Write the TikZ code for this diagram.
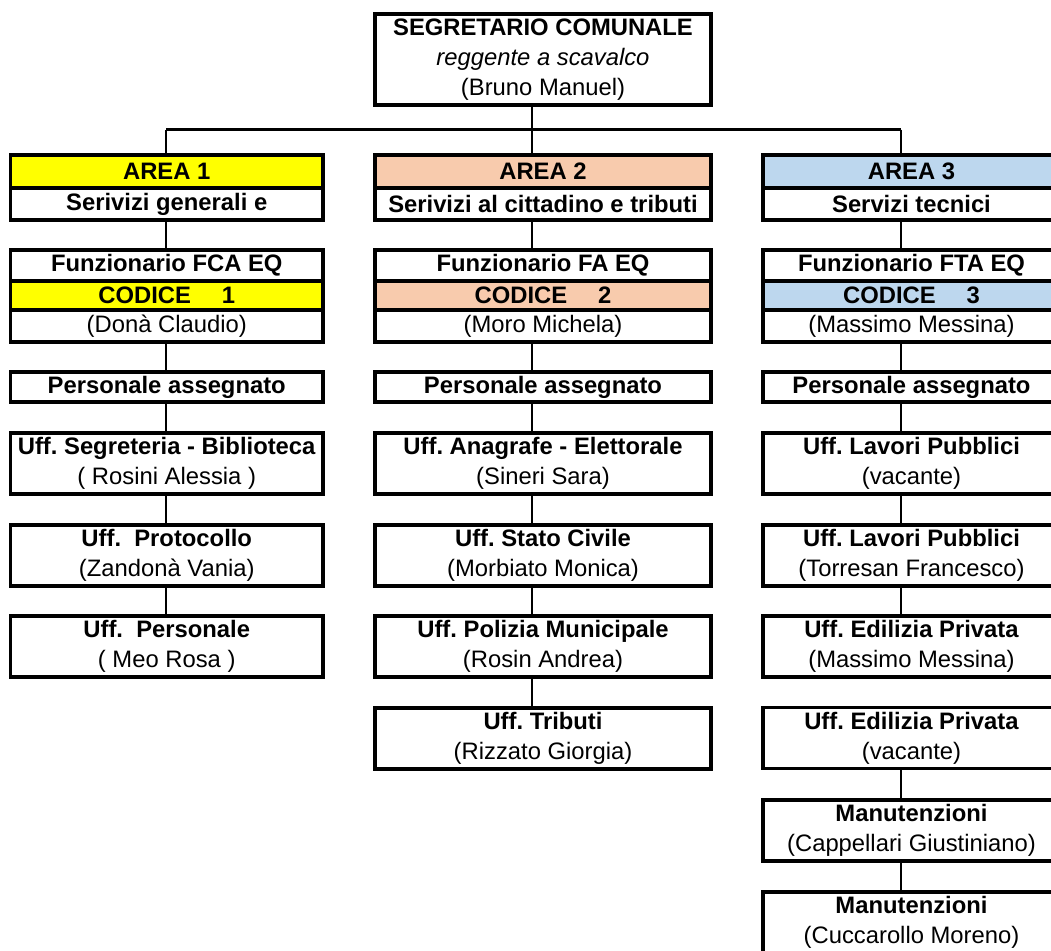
\documentclass[tikz,border=0pt]{standalone}
\usepackage{fontspec}
\setmainfont{Liberation Sans}
\definecolor{yel}{HTML}{FFFF00}
\definecolor{peach}{HTML}{F8CBAD}
\definecolor{lblue}{HTML}{BDD7EE}
\tikzset{
  cell/.style={draw=black, line width=3.2pt, inner sep=0pt, align=center,
    font=\fontsize{23.8}{30}\selectfont},
  conn/.style={draw=black, line width=2.9pt},
  w1/.style={minimum width=312.5},
  w2/.style={minimum width=336},
  w3/.style={minimum width=297},
  hA/.style={minimum height=33},
  hS/.style={minimum height=32},
  hF/.style={minimum height=31},
  hC/.style={minimum height=29},
  hN/.style={minimum height=32},
  hP/.style={minimum height=30},
  hU/.style={minimum height=61},
}
\begin{document}
\frenchspacing
\begin{tikzpicture}[x=1pt,y=-1pt]
\useasboundingbox (0,0) rectangle (1051,950);
\coordinate (c1) at (166,0);
\coordinate (c2) at (532,0);
\coordinate (c3) at (901,0);
\coordinate (bus) at (0,129.5);

% top
\node[cell, minimum width=336, minimum height=91] (top) at (543,59.5)
  {\textbf{SEGRETARIO COMUNALE}\\\textit{reggente a scavalco}\\(Bruno Manuel)};

% column 1
\node[cell,w1,hA,fill=yel] (a1h) at (166.75,171.5) {\textbf{AREA 1}};
\node[cell,w1,hS] (a1s) at (166.75,204) {\textbf{Serivizi generali e}};
\node[cell,w1,hF] (a1f) at (166.75,265.5) {\textbf{Funzionario FCA EQ}};
\node[cell,w1,hC,fill=yel] (a1c) at (166.75,295.5) {\textbf{CODICE\hspace{1.3em}1}};
\node[cell,w1,hN] (a1n) at (166.75,326) {(Donà Claudio)};
\node[cell,w1,hP] (a1p) at (166.75,387) {\textbf{Personale assegnato}};
\node[cell,w1,hU] (a1u1) at (166.75,463.5) {\textbf{Uff. Segreteria - Biblioteca}\\( Rosini Alessia )};
\node[cell,w1,hU] (a1u2) at (166.75,555.5) {\textbf{Uff.\ \ Protocollo}\\(Zandonà Vania)};
\node[cell,w1,hU] (a1u3) at (166.75,646.5) {\textbf{Uff.\ \ Personale}\\( Meo Rosa )};

% column 2
\node[cell,w2,hA,fill=peach] (a2h) at (543,171.5) {\textbf{AREA 2}};
\node[cell,w2,hS] (a2s) at (543,204) {\textbf{Serivizi al cittadino e tributi}};
\node[cell,w2,hF] (a2f) at (543,265.5) {\textbf{Funzionario FA EQ}};
\node[cell,w2,hC,fill=peach] (a2c) at (543,295.5) {\textbf{CODICE\hspace{1.3em}2}};
\node[cell,w2,hN] (a2n) at (543,326) {(Moro Michela)};
\node[cell,w2,hP] (a2p) at (543,387) {\textbf{Personale assegnato}};
\node[cell,w2,hU] (a2u1) at (543,463.5) {\textbf{Uff. Anagrafe - Elettorale}\\(Sineri Sara)};
\node[cell,w2,hU] (a2u2) at (543,555.5) {\textbf{Uff. Stato Civile}\\(Morbiato Monica)};
\node[cell,w2,hU] (a2u3) at (543,646.5) {\textbf{Uff. Polizia Municipale}\\(Rosin Andrea)};
\node[cell,w2,hU] (a2u4) at (543,738.5) {\textbf{Uff. Tributi}\\(Rizzato Giorgia)};

% column 3
\node[cell,w3,hA,fill=lblue] (a3h) at (911.5,171.5) {\textbf{AREA 3}};
\node[cell,w3,hS] (a3s) at (911.5,204) {\textbf{Servizi tecnici}};
\node[cell,w3,hF] (a3f) at (911.5,265.5) {\textbf{Funzionario FTA EQ}};
\node[cell,w3,hC,fill=lblue] (a3c) at (911.5,295.5) {\textbf{CODICE\hspace{1.3em}3}};
\node[cell,w3,hN] (a3n) at (911.5,326) {(Massimo Messina)};
\node[cell,w3,hP] (a3p) at (911.5,387) {\textbf{Personale assegnato}};
\node[cell,w3,hU] (a3u1) at (911.5,463.5) {\textbf{Uff. Lavori Pubblici}\\(vacante)};
\node[cell,w3,hU] (a3u2) at (911.5,555.5) {\textbf{Uff. Lavori Pubblici}\\(Torresan Francesco)};
\node[cell,w3,hU] (a3u3) at (911.5,646.5) {\textbf{Uff. Edilizia Privata}\\(Massimo Messina)};
\node[cell,w3,hU] (a3u4) at (911.5,738) {\textbf{Uff. Edilizia Privata}\\(vacante)};
\node[cell,w3,hU] (a3u5) at (911.5,830.5) {\textbf{Manutenzioni}\\(Cappellari Giustiniano)};
\node[cell,w3,hU] (a3u6) at (911.5,922.5) {\textbf{Manutenzioni}\\(Cuccarollo Moreno)};

% connectors
\draw[conn] (top.south -| c2) -- (c2 |- bus);
\draw[conn] (c1 |- bus) -- (c3 |- bus);
\draw[conn] (c1 |- bus) -- (a1h.north -| c1);
\draw[conn] (c2 |- bus) -- (a2h.north -| c2);
\draw[conn] (c3 |- bus) -- (a3h.north -| c3);

\draw[conn] (a1s.south -| c1) -- (a1f.north -| c1);
\draw[conn] (a1n.south -| c1) -- (a1p.north -| c1);
\draw[conn] (a1p.south -| c1) -- (a1u1.north -| c1);
\draw[conn] (a1u1.south -| c1) -- (a1u2.north -| c1);
\draw[conn] (a1u2.south -| c1) -- (a1u3.north -| c1);

\draw[conn] (a2s.south -| c2) -- (a2f.north -| c2);
\draw[conn] (a2n.south -| c2) -- (a2p.north -| c2);
\draw[conn] (a2p.south -| c2) -- (a2u1.north -| c2);
\draw[conn] (a2u1.south -| c2) -- (a2u2.north -| c2);
\draw[conn] (a2u2.south -| c2) -- (a2u3.north -| c2);
\draw[conn] (a2u3.south -| c2) -- (a2u4.north -| c2);

\draw[conn] (a3s.south -| c3) -- (a3f.north -| c3);
\draw[conn] (a3n.south -| c3) -- (a3p.north -| c3);
\draw[conn] (a3p.south -| c3) -- (a3u1.north -| c3);
\draw[conn] (a3u1.south -| c3) -- (a3u2.north -| c3);
\draw[conn] (a3u2.south -| c3) -- (a3u3.north -| c3);
\draw[conn] (a3u4.south -| c3) -- (a3u5.north -| c3);
\draw[conn] (a3u5.south -| c3) -- (a3u6.north -| c3);
\end{tikzpicture}
\end{document}
